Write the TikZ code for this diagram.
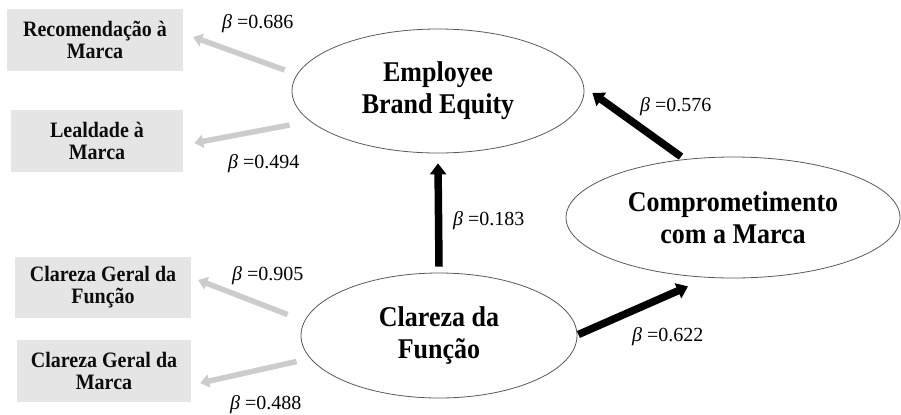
\documentclass[tikz,border=0pt]{standalone}
\usepackage{fontspec}
\usepackage{graphicx}
\setmainfont{Liberation Serif}
\usetikzlibrary{shapes.geometric,arrows.meta}
\newcommand{\tallln}[1]{\scalebox{1}[1.1]{#1}}
\begin{document}
\begin{tikzpicture}[x=1bp,y=-1bp,
 lat/.style={ellipse, draw=black!65, line width=0.8bp, inner sep=0pt, align=center, text=black,
   font=\bfseries\fontsize{26bp}{32bp}\selectfont},
 ind/.style={rectangle, fill=black!10, inner sep=0pt, align=center, text=black!95,
   font=\bfseries\fontsize{20bp}{22bp}\selectfont},
 blk/.style={line width=7.5bp, -{Triangle[length=11bp,width=16bp]}, black},
 gry/.style={line width=5.5bp, -{Triangle[length=9bp,width=13bp]}, black!20},
 betalab/.style={anchor=base west, inner sep=0pt, text=black, font=\fontsize{20bp}{22bp}\selectfont}]
\useasboundingbox (0,0) rectangle (901,414);
% latent constructs
\node[lat, minimum width=292bp, minimum height=124bp] (ebe) at (438,91) {\tallln{Employee}\\\tallln{Brand Equity}};
\node[lat, minimum width=334bp, minimum height=121bp] (comp) at (733,217.5) {\tallln{Comprometimento}\\\tallln{com a Marca}};
\node[lat, minimum width=276bp, minimum height=125bp] (cf) at (439,335.5) {\tallln{Clareza da}\\\tallln{Função}};
% indicators
\node[ind, minimum width=176bp, minimum height=62bp] (rec) at (95,40) {\tallln{Recomendação à}\\\tallln{Marca}};
\node[ind, minimum width=172bp, minimum height=62bp] (leal) at (97,141) {\tallln{Lealdade à}\\\tallln{Marca}};
\node[ind, minimum width=176bp, minimum height=61bp] (cgf) at (103,287.5) {\tallln{Clareza Geral da}\\\tallln{Função}};
\node[ind, minimum width=174bp, minimum height=62bp] (cgm) at (104,371) {\tallln{Clareza Geral da}\\\tallln{Marca}};
% grey loadings
\draw[gry] ([xshift=-7bp,yshift=21bp]ebe.west) -- ([xshift=10bp,yshift=3bp]rec.east);
\draw[gry] ([xshift=-2bp,yshift=-34bp]ebe.west) -- ([xshift=11bp,yshift=-2bp]leal.east);
\draw[gry] ([xshift=-13bp,yshift=21bp]cf.west) -- ([xshift=7bp,yshift=7.5bp]cgf.east);
\draw[gry] ([xshift=-4bp,yshift=-26bp]cf.west) -- ([xshift=9bp,yshift=-12bp]cgm.east);
% black paths
\draw[blk] ([yshift=6bp]cf.north) -- ([yshift=-10bp]ebe.south);
\draw[blk] ([xshift=1bp,yshift=1bp]cf.east) -- ([xshift=-45bp,yshift=-8bp]comp.south);
\draw[blk] ([xshift=-52bp]comp.north) -- ([xshift=8bp,yshift=-2bp]ebe.east);
% labels
\node[betalab] (b1) at (222,28) {\textit{β} =0.686};
\node[betalab] (b2) at (228,168) {\textit{β} =0.494};
\node[betalab] (b3) at (640,111) {\textit{β} =0.576};
\node[betalab] (b4) at (453,225) {\textit{β} =0.183};
\node[betalab] (b5) at (232,280) {\textit{β} =0.905};
\node[betalab] (b6) at (230,409) {\textit{β} =0.488};
\node[betalab] (b7) at (632,341) {\textit{β} =0.622};
\end{tikzpicture}
\end{document}
